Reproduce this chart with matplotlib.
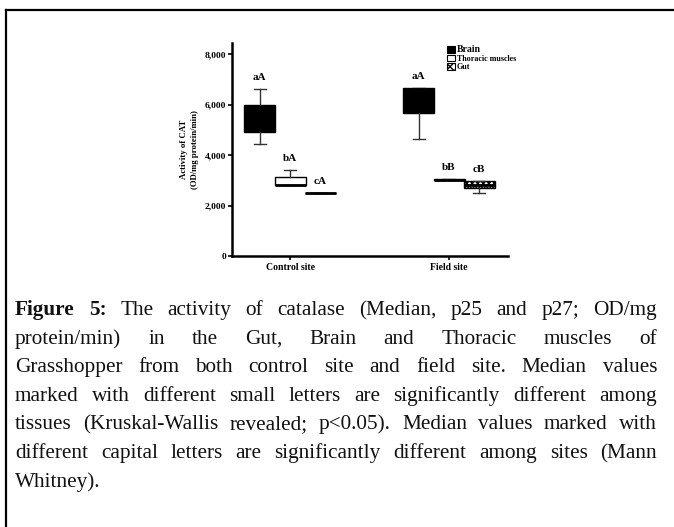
import matplotlib
matplotlib.use("Agg")
import matplotlib.pyplot as plt
from matplotlib.lines import Line2D
from matplotlib.patches import Patch
from matplotlib.ticker import FuncFormatter

# ---------------- data ----------------
sites = ["Control site", "Field site"]
tissues = ["Brain", "Thoracic muscles", "Gut"]
# per site, per tissue (Brain, Thoracic, Gut)
whislo = [[4450, 2800, 2495], [4650, 3000, 2500]]
q1     = [[4900, 2800, 2500], [5650, 3000, 2700]]
med    = [[5500, 2820, 2500], [6600, 3020, 2800]]
q3     = [[6000, 3130, 2505], [6650, 3050, 2980]]
whishi = [[6600, 3400, 2505], [6650, 3050, 2980]]
letters = [["aA", "bA", "cA"], ["aA", "bB", "cB"]]
yticks = [0, 2000, 4000, 6000, 8000]

caption_lines = [
    [("Figure", True), ("5:", True), ("The", False), ("activity", False), ("of", False),
     ("catalase", False), ("(Median,", False), ("p25", False), ("and", False), ("p27;", False),
     ("OD/mg", False)],
    "protein/min) in the Gut, Brain and Thoracic muscles of",
    "Grasshopper from both control site and field site. Median values",
    "marked with different small letters are significantly different among",
    "tissues (Kruskal-Wallis revealed; p<0.05). Median values marked with",
    "different capital letters are significantly different among sites (Mann",
    "Whitney).",
]

# ---------------- figure ----------------
W, H = 674, 527
fig = plt.figure(figsize=(W / 100, H / 100), dpi=100)
plt.rcParams['font.family'] = ['Liberation Serif', 'DejaVu Serif']

# frame lines (top & left)
fig.add_artist(Line2D([6 / W, 1.0], [1 - 10 / H, 1 - 10 / H], color='black', lw=1.6,
                      transform=fig.transFigure))
fig.add_artist(Line2D([6 / W, 6 / W], [0, 1 - 10 / H], color='black', lw=1.6,
                      transform=fig.transFigure))

ax = fig.add_axes([232 / W, 1 - 256 / H, (508 - 232) / W, (256 - 43) / H])

offsets = [-0.19, 0.0, 0.19]
bw = 0.195
fills = ['black', 'white', 'white']
hatches = [None, None, 'xxxxxx']

for si in range(len(sites)):
    for ti in range(len(tissues)):
        pos = si + 1 + offsets[ti]
        st = dict(whislo=whislo[si][ti], q1=q1[si][ti], med=med[si][ti],
                  q3=q3[si][ti], whishi=whishi[si][ti], fliers=[])
        ax.bxp([st], positions=[pos], widths=bw, patch_artist=True,
               showfliers=False, capwidths=bw * 0.38,
               boxprops=dict(facecolor=fills[ti], edgecolor='black', lw=1.0,
                             hatch=hatches[ti]),
               medianprops=dict(color='black', lw=2.0),
               whiskerprops=dict(color='#333333', lw=1.0),
               capprops=dict(color='#333333', lw=1.0))
        ax.text(pos, whishi[si][ti] + 450, letters[si][ti], ha='center', va='center',
                fontsize=8, fontweight='bold')

ax.set_xlim(0.635, 2.371)
ax.set_ylim(0, 8436)
ax.set_yticks(yticks)
ax.yaxis.set_major_formatter(FuncFormatter(lambda v, p: f"{int(v):,}"))
ax.set_xticks([1, 2])
ax.set_xticklabels(sites)
for lab in ax.get_xticklabels() + ax.get_yticklabels():
    lab.set_fontweight('bold')
ax.tick_params(axis='y', labelsize=6.8, length=3, width=1.2, pad=1)
ax.tick_params(axis='x', labelsize=7, length=3, width=1.2, pad=2)
for s in ['top', 'right']:
    ax.spines[s].set_visible(False)
for s in ['left', 'bottom']:
    ax.spines[s].set_linewidth(1.8)
ax.set_ylabel("Activity of CAT\n(OD/mg protein/min)", fontsize=6.3, fontweight='bold',
              labelpad=4, linespacing=1.6)

handles = [Patch(facecolor='black', edgecolor='black', lw=0.8),
           Patch(facecolor='white', edgecolor='black', lw=0.8),
           Patch(facecolor='white', edgecolor='black', lw=0.8, hatch='xxxx')]
leg = ax.legend(handles, tissues, loc='upper left', bbox_to_anchor=(0.78, 0.99),
                frameon=False, prop=dict(family='Liberation Serif', weight='bold', size=5.8),
                handlelength=0.9, handleheight=0.9, handletextpad=0.25,
                labelspacing=0.05, borderaxespad=0, borderpad=0)
leg.get_texts()[0].set_fontsize(7)

# ---------------- caption (justified) ----------------
fig.canvas.draw()
renderer = fig.canvas.get_renderer()
x0, x1 = 15, 657
y_first = 315
lh = 28.6
fs = 15.3
for li, line in enumerate(caption_lines):
    if isinstance(line, str):
        words = [(w, False) for w in line.split()]
    else:
        words = line
    y = 1 - (y_first + li * lh) / H
    texts = []
    widths = []
    for w, b in words:
        t = fig.text(0, y, w, fontsize=fs, fontweight='bold' if b else 'normal',
                     va='baseline', ha='left', color='#111111')
        texts.append(t)
        widths.append(t.get_window_extent(renderer).width)
    last = li == len(caption_lines) - 1
    if last or len(words) == 1:
        gap = fs * 0.25 * 100 / 72
    else:
        gap = (x1 - x0 - sum(widths)) / (len(words) - 1)
    x = x0
    for t, wd in zip(texts, widths):
        t.set_x(x / W)
        x += wd + gap

fig.savefig("out.png", dpi=100, facecolor='white')
